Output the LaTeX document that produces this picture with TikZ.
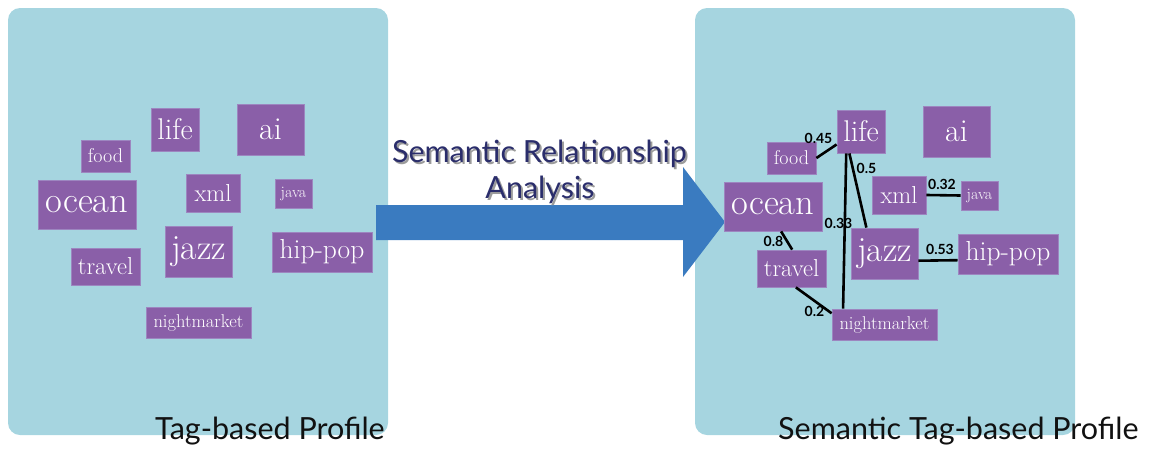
\documentclass[tikz,border=0pt]{standalone}
\usepackage{fontspec}
\usepackage{tikz}
\usetikzlibrary{calc}
\newfontfamily\gillfont{Lato}
\definecolor{panel}{HTML}{A6D5E0}
\definecolor{tagbg}{HTML}{8A5FA8}
\definecolor{tagedge}{HTML}{9D86C0}
\definecolor{arrowblue}{HTML}{3A7BC0}
\definecolor{navy}{HTML}{2A2D6B}
\definecolor{shade}{HTML}{9B9B9B}
\definecolor{ink}{HTML}{111111}
\tikzset{
  panelbox/.style={fill=panel, rounded corners=12pt},
  tag/.style={fill=tagbg, draw=tagedge, line width=0.8pt, text=white, inner sep=0pt},
  tagfont/.style={font=\fontsize{#1}{#1}\selectfont},
  rel/.style={draw=black, line width=2.6pt},
  wlab/.style={text=black, font=\gillfont\bfseries\fontsize{14}{14}\selectfont, inner sep=0pt},
  caption/.style={text=ink, font=\gillfont\fontsize{30.5}{30.5}\selectfont, inner sep=0pt, anchor=base west},
  headline/.style={font=\gillfont\fontsize{30.5}{30.5}\selectfont, inner sep=0pt, anchor=base},
}
\begin{document}
\begin{tikzpicture}[x=1pt, y=-1pt]
  \useasboundingbox (0,0) rectangle (1150,450);
  % the two profile panels
  \fill[panelbox] (8,8) rectangle (388,435);
  \fill[panelbox] (695,8) rectangle (1075,435);

  % big arrow between the panels
  \coordinate (tail) at (376,222.5);
  \coordinate (tip) at (725,222);
  \fill[arrowblue] (tail |- 0,205) -- (683,205) -- (683,167) -- (tip)
    -- (683,277) -- (683,240) -- (tail |- 0,240) -- cycle;

  % title over the arrow, shadow first
  \foreach \c/\o in {shade/2, navy/0} {
    \node[headline, text=\c] (headA\c) at (539.5+\o,162+\o) {Semantic Relationship};
    \node[headline, text=\c] (headB\c) at (540+\o,198+\o) {Analysis};
  }

  % the same tags in both panels
  \foreach \s/\dx/\dy in {L/0/0, R/686/2} {
    \begin{scope}[shift={(\dx,\dy)}]
      \node[tag, minimum width=48pt, minimum height=43pt, tagfont=30] (\s-life) at (175,129.5) {life};
      \node[tag, minimum width=67pt, minimum height=51pt, tagfont=32] (\s-ai) at (270.5,129.5) {ai};
      \node[tag, minimum width=49pt, minimum height=32pt, tagfont=20] (\s-food) at (105.5,156) {food};
      \node[tag, minimum width=98pt, minimum height=49pt, tagfont=36.5] (\s-ocean) at (87,204.5) {ocean};
      \node[tag, minimum width=54pt, minimum height=38pt, tagfont=24.5] (\s-xml) at (213,193) {xml};
      \node[tag, minimum width=37pt, minimum height=29pt, tagfont=16] (\s-java) at (293.5,193.5) {java};
      \node[tag, minimum width=67pt, minimum height=51pt, tagfont=35.5] (\s-jazz) at (198.5,251.5) {jazz};
      \node[tag, minimum width=100pt, minimum height=40pt, tagfont=27.5] (\s-hippop) at (322,252) {hip-pop};
      \node[tag, minimum width=69pt, minimum height=37pt, tagfont=24.5] (\s-travel) at (105.5,266.5) {travel};
      \node[tag, minimum width=105pt, minimum height=31pt, tagfont=18.5] (\s-night) at (198.5,322.5) {nightmarket};
    \end{scope}
  }

  % semantic relations with their weights
  \draw[rel] (R-food.east) -- (R-life.208);
  \draw[rel] (R-life.242) -- (R-jazz.125);
  \draw[rel] (R-life.236) -- (R-night.159);
  \draw[rel] (R-ocean.288) -- (R-travel.88);
  \draw[rel] (R-travel.283) -- (R-night.168);
  \draw[rel] (R-xml.east) -- (R-java.west);
  \draw[rel] (R-jazz.348) -- (R-hippop.187);
  \node[wlab] (w1) at (818.5,138) {0.45};
  \node[wlab] (w2) at (866.5,168) {0.5};
  \node[wlab] (w3) at (838.5,223) {0.33};
  \node[wlab] (w4) at (773.5,241.5) {0.8};
  \node[wlab] (w5) at (814.5,311) {0.2};
  \node[wlab] (w6) at (942,184) {0.32};
  \node[wlab] (w7) at (940,249) {0.53};

  % captions under the panels
  \node[caption] (capL) at (155,439) {Tag-based Profile};
  \node[caption] (capR) at (778,439) {Semantic Tag-based Profile};
\end{tikzpicture}
\end{document}
